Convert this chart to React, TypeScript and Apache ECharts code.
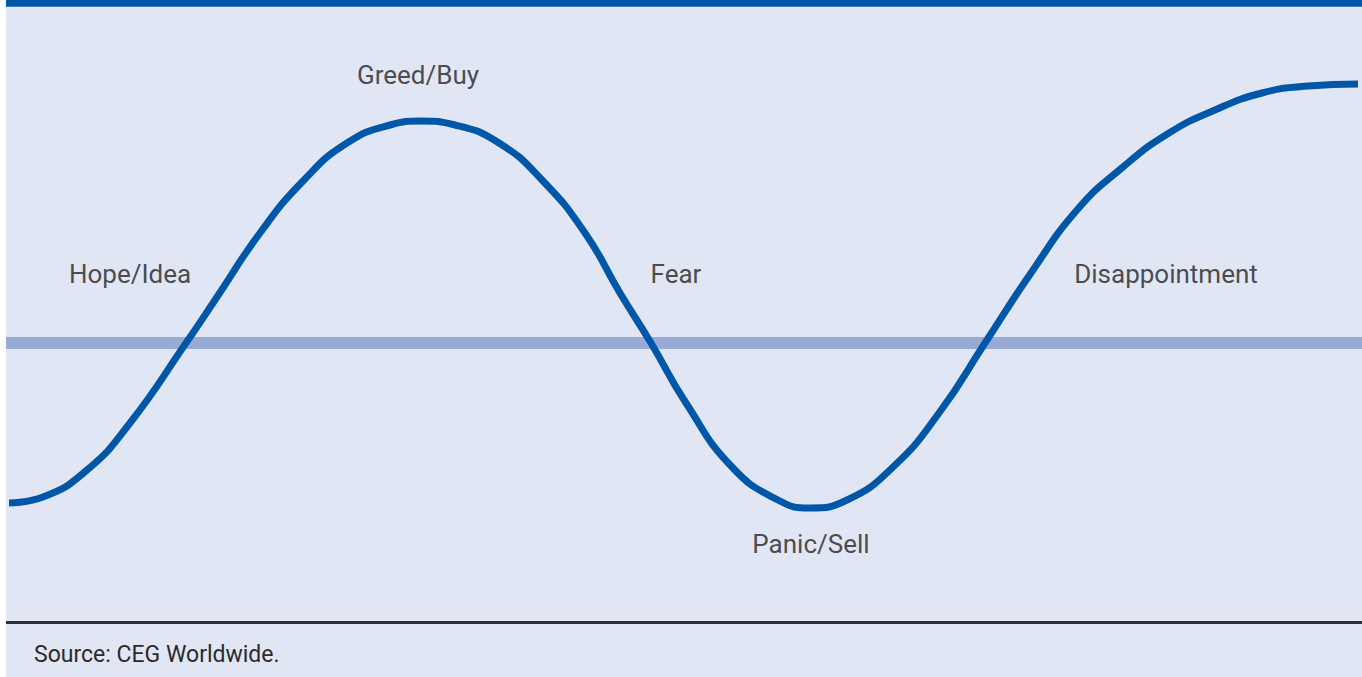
import React, { useEffect, useRef } from "react";
import * as echarts from "echarts";

// Cycle curve: x = time position, y = sentiment relative to the neutral line
const curveX = [1, 35, 79, 122, 178, 209, 252, 296, 339, 382, 413, 447, 491, 534, 577, 612, 643, 678, 724, 770, 802, 839, 885, 931, 977, 1023, 1069, 1115, 1161, 1207, 1254, 1300, 1350];
const curveY = [-160, -154, -127, -80, 0, 46, 110, 163, 200, 218, 222, 218, 200, 163, 110, 50, 0, -60, -124, -157, -165, -157, -124, -70, 0, 70, 133, 176, 210, 233, 250, 257, 259];

const labelNames = ["Greed/Buy", "Hope/Idea", "Fear", "Disappointment", "Panic/Sell"];
const labelX = [410, 122, 668, 1158, 803];
const labelY = [268, 69, 69, 69, -201];

const neutralLevel = 0;
const sourceText = "Source: CEG Worldwide.";

export default function App() {
  const ref = useRef<HTMLDivElement>(null);
  useEffect(() => {
    if (!ref.current) return;
    const chart = echarts.init(ref.current, undefined, { renderer: "svg" });
    const curve = curveX.map((x, i) => [x, curveY[i]]);
    const labels = labelNames.map((n, i) => ({ name: n, value: [labelX[i], labelY[i]] }));
    chart.setOption({
      animation: false,
      backgroundColor: "#ffffff",
      graphic: [
        { type: "rect", left: 6, top: 0, shape: { width: 1356, height: 677 }, style: { fill: "#e1e6f4" }, z: -10 },
        { type: "rect", left: 6, top: 0, shape: { width: 1356, height: 6 }, style: { fill: "#0057a8" }, z: -9 },
        { type: "rect", left: 6, top: 6, shape: { width: 1356, height: 1 }, style: { fill: "#3f7cc0" }, z: -9 },
        { type: "rect", left: 6, top: 621, shape: { width: 1356, height: 3 }, style: { fill: "#2e2e33" }, z: -9 },
        {
          type: "text",
          left: 34,
          top: 643,
          style: { text: sourceText, fill: "#2b2b2b", font: "23px Roboto" },
        },
      ],
      grid: { left: 6, right: 0, top: 43, height: 550, containLabel: false },
      xAxis: { type: "value", min: -2, max: 1354, show: false },
      yAxis: { type: "value", min: -250, max: 300, show: false, splitLine: { show: false } },
      series: [
        {
          type: "line",
          data: curve,
          smooth: 0.5,
          showSymbol: false,
          symbol: "none",
          lineStyle: { color: "#0057a8", width: 7 },
          z: 3,
          markLine: {
            silent: true,
            symbol: "none",
            label: { show: false },
            lineStyle: { color: "#9aaad7", width: 12, type: "solid" },
            data: [{ yAxis: neutralLevel }],
            z: 1,
          },
        },
        {
          type: "scatter",
          data: labels,
          symbolSize: 0,
          label: {
            show: true,
            position: "inside",
            formatter: (p: any) => p.name,
            color: "#222222",
            fontFamily: "Roboto",
            fontSize: 26,
          },
          z: 5,
        },
      ],
    });
    return () => chart.dispose();
  }, []);
  return <div ref={ref} style={{ position: "fixed", left: 0, top: 0, width: 1362, height: 677 }} />;
}
